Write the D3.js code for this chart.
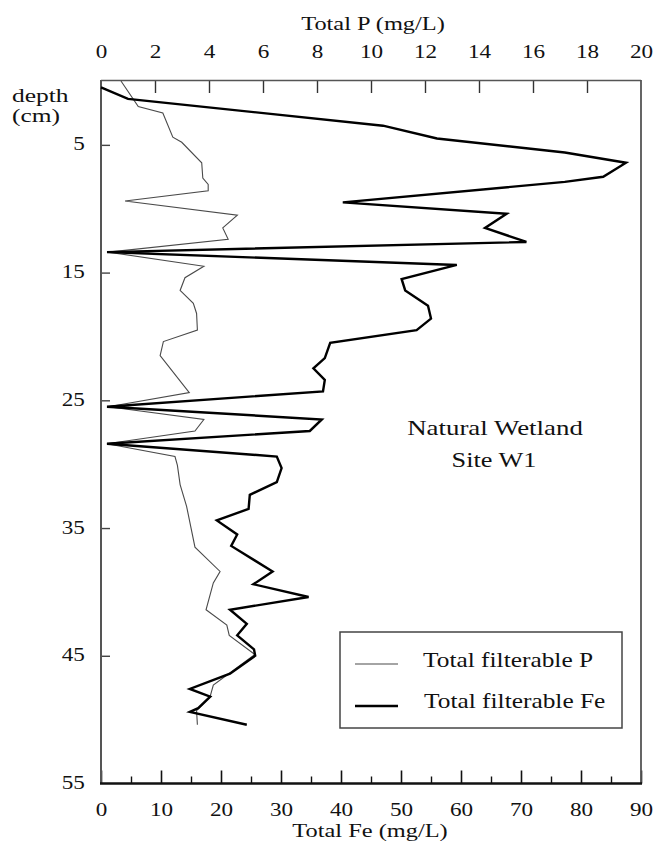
<!DOCTYPE html>
<html>
<head>
<meta charset="utf-8">
<script src="https://cdn.jsdelivr.net/npm/d3@7"></script>
<style>
  html, body { margin: 0; padding: 0; background: #fff; }
  svg { display: block; }
  text { font-family: "Liberation Serif", "Times New Roman", serif; fill: #111; }
</style>
</head>
<body>
<svg id="chart" width="657" height="848"></svg>
<script>
// Pore-water profile, natural wetland site W1
const depthFe = [0.5,1.4,3.5,4.5,5.6,6.4,7.5,7.9,9.5,10.4,11.5,12.6,13.4,14.4,15.5,16.4,17.6,18.6,19.5,20.5,
                 21.7,22.5,23.4,24.3,25.5,26.5,27.4,28.4,29.4,30.3,31.4,32.4,33.5,34.4,35.5,36.4,38.4,39.4,40.4,41.4,
                 42.5,43.4,44.5,45.0,46.4,47.6,48.2,49.1,49.4,50.4];
const totalFe = [0,4.5,47,56,77.3,87.5,83.7,77.3,40.3,67.6,64,70.9,1,59.3,50.1,50.7,54.5,55,52.6,38.2,
                 37.3,35.4,37.3,37,1,36.8,34.8,1,29.3,30.1,29.3,24.8,24.6,19.3,22.7,21.7,28.6,25.4,34.6,21.5,
                 24.3,22.7,25.5,25.7,21.5,14.8,18.2,16.2,14.8,24.3];

const depthP = [0,2.0,2.5,4.4,4.8,6.4,7.6,8.1,8.6,9.4,10.5,11.5,12.4,13.4,14.5,15.4,16.4,17.4,18.2,19.5,
                20.4,21.5,24.4,25.5,26.5,27.4,28.4,29.4,30.1,31.6,33.3,36.5,38.4,39.3,41.4,42.6,43.4,44.9,47.3,48.2,
                49.3,50.4];
const totalP = [0.74,1.38,2.29,2.66,2.99,3.73,3.77,3.97,3.97,0.89,5.05,4.51,4.71,0.27,3.81,3.11,2.93,3.42,3.54,3.57,
                2.31,2.19,3.27,0.27,3.81,3.48,0.22,2.74,2.83,2.93,3.17,3.48,4.41,4.16,3.89,4.66,4.75,5.70,4.16,4.04,
                3.54,3.57];

const depthTicks = [5,15,25,35,45,55];
const feTicks = [0,10,20,30,40,50,60,70,80,90];
const feMinorTicks = [5,15,25,35,45,55,65,75,85];
const pTicks = [0,2,4,6,8,10,12,14,16,18,20];

const legendItems = ["Total filterable P", "Total filterable Fe"];
const siteLabels = ["Natural Wetland", "Site W1"];

const SX = 1.25; // wide serif lettering

const svg = d3.select("#chart");
const plotLeft = 101, plotRight = 641, plotTop = 81, plotBottom = 783.5;

const x = d3.scaleLinear().domain([0, 90]).range([plotLeft, plotRight]);
const xP = d3.scaleLinear().domain([0, 20]).range([plotLeft, plotRight]);
const y = d3.scaleLinear().domain([0, 55]).range([plotTop, plotBottom]);

function label(txt, cx, cy, size, anchor, sx) {
  return svg.append("text")
    .attr("transform", `translate(${cx},${cy}) scale(${sx || SX},1)`)
    .attr("text-anchor", anchor || "middle")
    .style("font-size", size + "px")
    .text(txt);
}

function styleTickText(g) {
  g.selectAll("text")
    .style("font-size", "18.5px")
    .style("font-family", "Liberation Serif, serif")
    .attr("fill", "#111")
    .attr("transform", `scale(${SX},1)`);
}

// Bottom axis: total Fe
const gB = svg.append("g").attr("transform", `translate(0,${plotBottom})`)
  .call(d3.axisBottom(x).tickValues(feTicks).tickSize(-13).tickPadding(19).tickFormat(d3.format("d")));
gB.select(".domain").remove();
gB.selectAll("line").attr("stroke", "#111").attr("stroke-width", 1.6);
styleTickText(gB);

const gBm = svg.append("g").attr("transform", `translate(0,${plotBottom})`)
  .call(d3.axisBottom(x).tickValues(feMinorTicks).tickSize(-7).tickFormat(""));
gBm.select(".domain").remove();
gBm.selectAll("line").attr("stroke", "#111").attr("stroke-width", 1.4);

// Top axis: total P
const gT = svg.append("g").attr("transform", `translate(0,${plotTop})`)
  .call(d3.axisTop(xP).tickValues(pTicks).tickSize(-12).tickPadding(23).tickFormat(d3.format("d")));
gT.select(".domain").remove();
gT.selectAll("line").attr("stroke", "#333").attr("stroke-width", 1.4)
  .attr("display", d => (d === 0 || d === 20) ? "none" : null);
styleTickText(gT);

// Left axis: depth
const gL = svg.append("g").attr("transform", `translate(${plotLeft},0)`)
  .call(d3.axisLeft(y).tickValues(depthTicks).tickSize(-9).tickPadding(13).tickFormat(d3.format("d")));
gL.select(".domain").remove();
gL.selectAll("line").attr("stroke", "#444").attr("stroke-width", 1.4)
  .attr("display", d => d === 55 ? "none" : null);
styleTickText(gL);
gL.selectAll("text").attr("dy", "0.27em");

// Frame
svg.append("line").attr("x1", plotLeft).attr("x2", plotRight).attr("y1", plotTop - 0.5).attr("y2", plotTop - 0.5)
  .attr("stroke", "#555").attr("stroke-width", 1.5);
svg.append("line").attr("x1", plotRight).attr("x2", plotRight).attr("y1", plotTop - 1).attr("y2", plotBottom)
  .attr("stroke", "#555").attr("stroke-width", 1.8);
svg.append("line").attr("x1", plotLeft).attr("x2", plotLeft).attr("y1", plotTop - 1).attr("y2", plotBottom)
  .attr("stroke", "#555").attr("stroke-width", 2);
svg.append("line").attr("x1", plotLeft - 1).attr("x2", plotRight + 1).attr("y1", plotBottom).attr("y2", plotBottom)
  .attr("stroke", "#111").attr("stroke-width", 2.5);

// Profiles
const lineFe = d3.line().x((d, i) => x(totalFe[i])).y(d => y(d));
const lineP = d3.line().x((d, i) => xP(totalP[i])).y(d => y(d));

svg.append("path").datum(depthP).attr("d", lineP)
  .attr("fill", "none").attr("stroke", "#4a4a4a").attr("stroke-width", 1.1).attr("stroke-linejoin", "miter");
svg.append("path").datum(depthFe).attr("d", lineFe)
  .attr("fill", "none").attr("stroke", "#000").attr("stroke-width", 2.4).attr("stroke-linejoin", "miter");

// Axis titles
label("Total P (mg/L)", 373, 30, 19.5);
label("Total Fe (mg/L)", 370, 837, 19.5);
label("depth", 12, 101.5, 18.2, "start", 1.4);
label("(cm)", 12, 122, 18.2, "start", 1.4);

// Site annotation
label(siteLabels[0], 495, 435, 21.5);
label(siteLabels[1], 494, 467, 21);

// Legend
svg.append("rect").attr("x", 340).attr("y", 632).attr("width", 282).attr("height", 96)
  .attr("fill", "#fff").attr("stroke", "#444").attr("stroke-width", 1.5);
const legendY = [664, 706];
svg.append("line").attr("x1", 355).attr("x2", 398).attr("y1", legendY[0]).attr("y2", legendY[0])
  .attr("stroke", "#4a4a4a").attr("stroke-width", 1.1);
svg.append("line").attr("x1", 355).attr("x2", 398).attr("y1", legendY[1]).attr("y2", legendY[1])
  .attr("stroke", "#000").attr("stroke-width", 2.4);
label(legendItems[0], 423, 667, 20.3, "start");
label(legendItems[1], 424, 708, 20.3, "start");
</script>
</body>
</html>
